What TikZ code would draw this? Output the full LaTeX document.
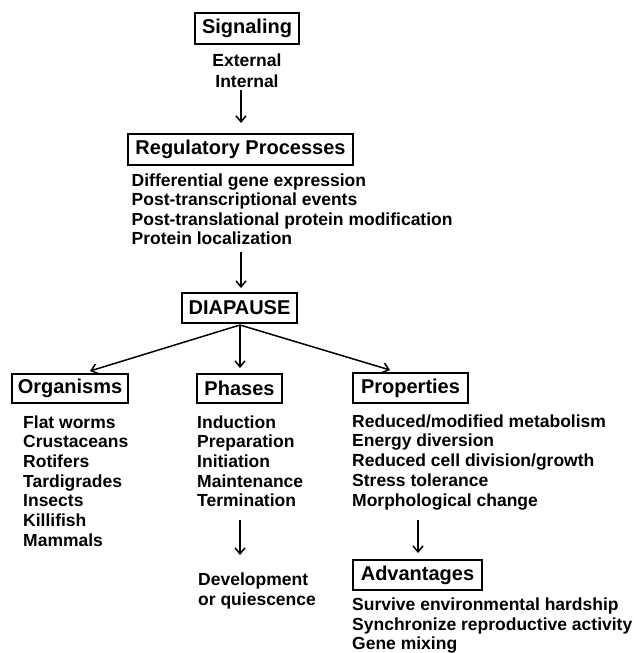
\documentclass[tikz,border=0pt]{standalone}
\usepackage{fontspec}
\setmainfont{Liberation Sans}
\usetikzlibrary{arrows.meta}
\tikzset{
  titlebox/.style={draw, line width=2pt, inner sep=0pt, font=\fontsize{20}{24}\selectfont\bfseries},
  item/.style={anchor=base west, inner sep=0pt, font=\fontsize{17.5}{20}\selectfont\bfseries},
  citem/.style={anchor=base, inner sep=0pt, font=\fontsize{17.5}{20}\selectfont\bfseries},
  arr/.style={line width=1.5pt, -{Straight Barb[length=6pt,width=10pt,line width=1.5pt]}}
}
\begin{document}
\begin{tikzpicture}[x=1pt,y=-1pt]
\useasboundingbox (0,0) rectangle (633,653);
% boxes
\node[titlebox, minimum width=104pt, minimum height=31pt] (sig) at (247,28.5) {Signaling};
\node[titlebox, minimum width=225pt, minimum height=31pt] (reg) at (240.5,149.5) {Regulatory Processes};
\node[titlebox, minimum width=115pt, minimum height=30pt] (dia) at (239.5,308) {DIAPAUSE};
\node[titlebox, minimum width=116pt, minimum height=29pt] (org) at (70,388.5) {Organisms};
\node[titlebox, minimum width=85pt, minimum height=29pt] (pha) at (239.5,388.5) {Phases};
\node[titlebox, minimum width=115pt, minimum height=30pt] (pro) at (410.5,388) {Properties};
\node[titlebox, minimum width=129pt, minimum height=30pt] (adv) at (417.5,575) {Advantages};
% signaling items
\node[citem] (ext) at (247,66.5) {External};
\node[citem] (int) at (247,87) {Internal};
% regulatory items
\node[item] (r1) at (131.5,186) {Differential gene expression};
\node[item] (r2) at (131.5,205.5) {Post-transcriptional events};
\node[item] (r3) at (131.5,225) {Post-translational protein modification};
\node[item] (r4) at (131.5,244.5) {Protein localization};
% organisms
\foreach \t [count=\i from 0] in {Flat worms,Crustaceans,Rotifers,Tardigrades,Insects,Killifish,Mammals}
  \node[item] (o\i) at (23,428+19.67*\i) {\t};
% phases
\foreach \t [count=\i from 0] in {Induction,Preparation,Initiation,Maintenance,Termination}
  \node[item] (p\i) at (197,428+19.67*\i) {\t};
\node[item] (dev1) at (198,585.5) {Development};
\node[item] (dev2) at (198,605.5) {or quiescence};
% properties
\foreach \t [count=\i from 0] in {Reduced/modified metabolism,Energy diversion,Reduced cell division/growth,Stress tolerance,Morphological change}
  \node[item] (q\i) at (352,427+19.75*\i) {\t};
% advantages
\foreach \t [count=\i from 0] in {Survive environmental hardship,Synchronize reproductive activity,Gene mixing}
  \node[item] (a\i) at (352,610.5+19.7*\i) {\t};
% arrow coordinates
\coordinate (s1) at (241,90);  \coordinate (e1) at (241,123);
\coordinate (s2) at (241,252); \coordinate (e2) at (241,288);
\coordinate (s3) at (240,325);
\coordinate (eL) at (90,371); \coordinate (eM) at (240,368); \coordinate (eR) at (390,370);
\coordinate (s4) at (240,520); \coordinate (e4) at (240,555);
\coordinate (s5) at (418,520); \coordinate (e5) at (418,553);
\draw[arr] (s1) -- (e1);
\draw[arr] (s2) -- (e2);
\draw[arr] (s3) -- (eL);
\draw[arr] (s3) -- (eM);
\draw[arr] (s3) -- (eR);
\draw[arr] (s4) -- (e4);
\draw[arr] (s5) -- (e5);
\end{tikzpicture}
\end{document}
